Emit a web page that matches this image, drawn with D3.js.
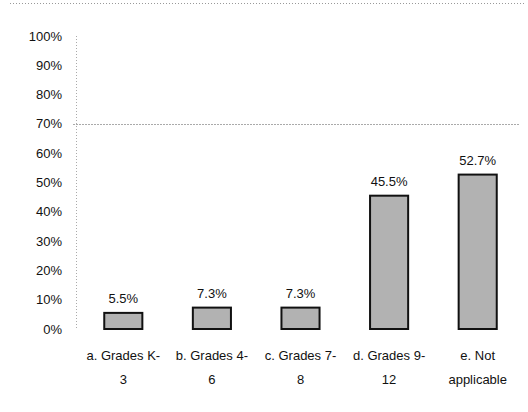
<!DOCTYPE html>
<html>
<head>
<meta charset="utf-8">
<script src="https://cdn.jsdelivr.net/npm/d3@7"></script>
<style>
  body { margin: 0; background: #fff; }
  text { font-family: "Liberation Sans", Arial, sans-serif; fill: #111; }
</style>
</head>
<body>
<div id="chart"></div>
<script>
const categories = ['a. Grades K-3', 'b. Grades 4-6', 'c. Grades 7-8', 'd. Grades 9-12', 'e. Not applicable'];
const labelLines = [['a. Grades K-', '3'], ['b. Grades 4-', '6'], ['c. Grades 7-', '8'], ['d. Grades 9-', '12'], ['e. Not', 'applicable']];
const values = [5.5, 7.3, 7.3, 45.5, 52.7];
const yTicks = [0, 10, 20, 30, 40, 50, 60, 70, 80, 90, 100];

const width = 528;
const height = 412;

const svg = d3.select('#chart')
    .append('svg')
    .attr('width', width)
    .attr('height', height);

const x = d3.scaleBand()
    .domain(categories)
    .range([79, 522])
    .paddingInner(0.57)
    .paddingOuter(0.285);

const y = d3.scaleLinear()
    .domain([0, 100])
    .range([329, 36]);

// dotted frame line at top
svg.append('line')
    .attr('x1', 10).attr('x2', 524)
    .attr('y1', 3.5).attr('y2', 3.5)
    .attr('stroke', '#999')
    .attr('stroke-width', 1)
    .attr('stroke-dasharray', '1,2');

// y axis, dotted
svg.append('line')
    .attr('x1', 76.5).attr('x2', 76.5)
    .attr('y1', y(100)).attr('y2', y(0))
    .attr('stroke', '#aaa')
    .attr('stroke-dasharray', '1,2');

// 70% grid line
svg.append('line')
    .attr('x1', 73).attr('x2', 520)
    .attr('y1', Math.round(y(70)) + 0.5).attr('y2', Math.round(y(70)) + 0.5)
    .attr('stroke', '#aaa')
    .attr('stroke-dasharray', '2,1');

svg.append('g')
    .selectAll('text')
    .data(yTicks)
    .enter()
    .append('text')
    .text(d => d + '%')
    .attr('x', 62)
    .attr('y', d => y(d))
    .attr('dy', '0.35em')
    .attr('text-anchor', 'end')
    .style('font-size', '13px');

svg.append('g')
    .selectAll('rect')
    .data(values)
    .enter()
    .append('rect')
    .attr('x', (d, i) => x(categories[i]))
    .attr('y', d => y(d))
    .attr('width', x.bandwidth())
    .attr('height', d => y(0) - y(d))
    .attr('fill', '#b2b2b2')
    .attr('stroke', '#111')
    .attr('stroke-width', 2);

svg.append('g')
    .selectAll('text')
    .data(values)
    .enter()
    .append('text')
    .text(d => d.toFixed(1) + '%')
    .attr('x', (d, i) => x(categories[i]) + x.bandwidth() / 2)
    .attr('y', d => y(d) - 10)
    .attr('text-anchor', 'middle')
    .style('font-size', '13px');

const xl = svg.append('g')
    .selectAll('text')
    .data(labelLines)
    .enter()
    .append('text')
    .attr('text-anchor', 'middle')
    .style('font-size', '13px');

xl.selectAll('tspan')
    .data((d, i) => d.map(s => ({s: s, i: i})))
    .enter()
    .append('tspan')
    .text(d => d.s)
    .attr('x', d => x(categories[d.i]) + x.bandwidth() / 2)
    .attr('y', (d, j) => 360 + j * 24);
</script>
</body>
</html>
